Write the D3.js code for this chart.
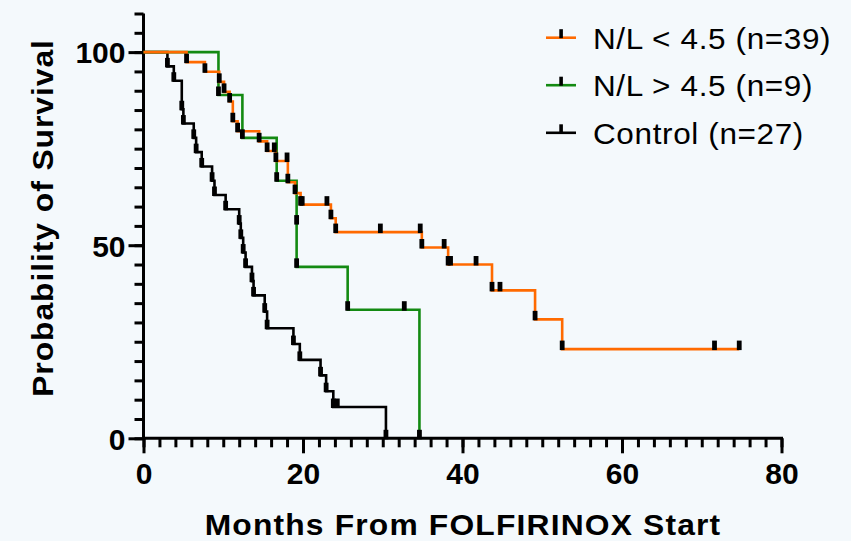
<!DOCTYPE html>
<html>
<head>
<meta charset="utf-8">
<script src="https://cdn.jsdelivr.net/npm/d3@7"></script>
<style>
  html, body { margin: 0; padding: 0; background: #f4f9fc; }
  svg { display: block; }
  text { font-family: "Liberation Sans", Arial, Helvetica, sans-serif; }
</style>
</head>
<body>
<svg id="chart" width="851" height="541"></svg>
<script>
// Kaplan–Meier step points: month of each event and survival (%) after it.
const lowMonths = [0, 5.4, 7.7, 9.5, 10.1, 10.8, 11.2, 11.8, 14.5, 15.5, 16.4, 16.6, 18.0, 18.1, 19.0, 19.7, 19.9, 23.0, 23.5, 24.1, 29.7, 34.7, 34.9, 37.7, 38.2, 38.5, 41.7, 43.7, 44.7, 49.1, 52.5, 71.6, 74.7];
const lowSurvival = [100, 97.4, 94.9, 92.3, 89.7, 87.2, 82.1, 79.5, 76.9, 74.4, 74.4, 71.8, 71.8, 66.3, 63.5, 60.5, 60.5, 60.5, 57.0, 53.4, 53.4, 53.4, 49.4, 49.4, 45.0, 45.0, 45.0, 38.3, 38.3, 30.8, 23.1, 23.1, 23.1];

const highMonths = [0, 9.4, 12.4, 16.7, 19.2, 19.2, 25.6, 32.7, 34.6];
const highSurvival = [100, 88.9, 77.8, 66.7, 55.6, 44.4, 33.3, 33.3, 0];

const controlMonths = [0, 3.0, 3.8, 4.8, 5.0, 6.3, 6.6, 7.3, 8.6, 8.9, 10.3, 12.0, 12.2, 12.5, 12.8, 13.6, 13.8, 15.2, 15.5, 18.8, 19.6, 22.2, 22.9, 23.8, 24.3, 30.4];
const controlSurvival = [100, 96.3, 92.6, 85.2, 81.5, 77.8, 74.1, 70.4, 66.7, 63.0, 59.3, 55.6, 51.9, 48.1, 44.4, 40.7, 37.0, 32.8, 28.5, 24.4, 20.3, 16.3, 12.2, 8.1, 8.1, 0];

const seriesLabels = ["N/L < 4.5 (n=39)", "N/L > 4.5 (n=9)", "Control (n=27)"];
const seriesColors = ["#ff6a00", "#138a12", "#000000"];

const xTicks = [0, 20, 40, 60, 80];
const yTicks = [0, 50, 100];

const series = [
  { label: seriesLabels[0], color: seriesColors[0], months: lowMonths, surv: lowSurvival },
  { label: seriesLabels[1], color: seriesColors[1], months: highMonths, surv: highSurvival },
  { label: seriesLabels[2], color: seriesColors[2], months: controlMonths, surv: controlSurvival }
];

const svg = d3.select("#chart");
const x = d3.scaleLinear().domain([0, 80]).range([143.5, 781.5]);
const y = d3.scaleLinear().domain([0, 110]).range([438.3, 13.5]);

const font = 30;

// Minor ticks (no labels)
const xMinor = d3.axisBottom(x).tickValues(d3.range(0, 81, 2)).tickSize(9).tickFormat("");
const yMinor = d3.axisLeft(y).tickValues(d3.range(0, 111, 5)).tickSize(9).tickFormat("");
// Major ticks with labels
const xMajor = d3.axisBottom(x).tickValues(xTicks).tickSize(15).tickPadding(9).tickFormat(d3.format("d"));
const yMajor = d3.axisLeft(y).tickValues(yTicks).tickSize(15).tickPadding(3).tickFormat(d3.format("d"));

function styleAxis(g) {
  g.selectAll(".domain").remove();
  g.selectAll("line").attr("stroke", "#000").attr("stroke-width", 3);
  g.selectAll("text")
    .attr("fill", "#000")
    .attr("font-size", font)
    .attr("font-weight", "bold");
}

const gx = svg.append("g").attr("transform", `translate(0,${y(0)})`);
gx.append("g").call(xMinor).call(styleAxis);
gx.append("g").call(xMajor).call(styleAxis);
gx.selectAll("text").attr("dy", "0.71em");

const gy = svg.append("g").attr("transform", `translate(${x(0)},0)`);
gy.append("g").call(yMinor).call(styleAxis);
gy.append("g").call(yMajor).call(styleAxis);
gy.selectAll("text").attr("dy", "0.36em");

// Axis lines
svg.append("line").attr("x1", x(0)).attr("x2", x(0)).attr("y1", y(110)).attr("y2", y(0) + 1.5)
  .attr("stroke", "#000").attr("stroke-width", 3);
svg.append("line").attr("x1", x(0) - 1.5).attr("x2", x(80) + 1.5).attr("y1", y(0)).attr("y2", y(0))
  .attr("stroke", "#000").attr("stroke-width", 3);

// Axis titles (slightly widened lettering)
svg.append("text")
  .attr("transform", "translate(463,535) scale(1.06,1)")
  .attr("text-anchor", "middle")
  .attr("font-size", font).attr("font-weight", "bold")
  .style("letter-spacing", "1.1px")
  .text("Months From FOLFIRINOX Start");

svg.append("text")
  .attr("transform", "translate(53,218) rotate(-90) scale(1.06,1)")
  .attr("text-anchor", "middle")
  .attr("font-size", font).attr("font-weight", "bold")
  .style("letter-spacing", "0.9px")
  .text("Probability of Survival");

// Survival curves: control first, then N/L > 4.5, then N/L < 4.5 on top
const line = d3.line().curve(d3.curveStepAfter).x(d => x(d[0])).y(d => y(d[1]));
const drawOrder = [2, 1, 0];
drawOrder.forEach(i => {
  const s = series[i];
  const pts = s.months.map((m, k) => [m, s.surv[k]]);
  svg.append("path").datum(pts)
    .attr("d", line)
    .attr("fill", "none")
    .attr("stroke", s.color)
    .attr("stroke-width", 2.6)
    .attr("stroke-linejoin", "miter");
});

// Event ticks at every step point after time zero
const tickW = 4.8, tickH = 9.5;
drawOrder.forEach(i => {
  const s = series[i];
  const pts = s.months.map((m, k) => [m, s.surv[k]]).slice(1);
  svg.append("g").selectAll("rect").data(pts).join("rect")
    .attr("x", d => x(d[0]) - tickW / 2)
    .attr("y", d => y(d[1]) - tickH + 1)
    .attr("width", tickW)
    .attr("height", tickH)
    .attr("fill", "#000");
});

// Legend
const legend = svg.append("g");
const rowY = [37.7, 85.2, 132.8];
series.forEach((s, i) => {
  const g = legend.append("g").attr("transform", `translate(0,${rowY[i]})`);
  g.append("line").attr("x1", 546).attr("x2", 576).attr("y1", 0).attr("y2", 0)
    .attr("stroke", s.color).attr("stroke-width", 2.6);
  g.append("rect").attr("x", 559.3).attr("y", -8.5).attr("width", 3.6).attr("height", 9).attr("fill", "#000");
  g.append("text").attr("transform", "translate(593,10.8) scale(1.05,1)")
    .attr("font-size", font)
    .style("letter-spacing", "0.6px")
    .attr("fill", "#000")
    .text(s.label);
});
</script>
</body>
</html>
